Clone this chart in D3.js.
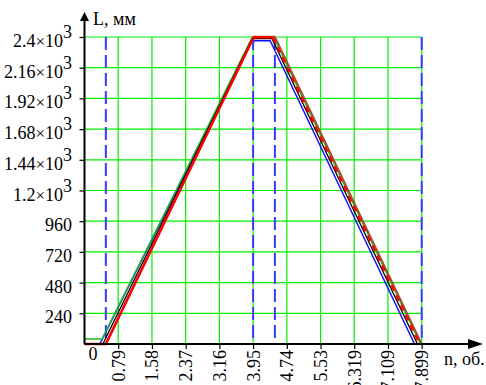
<!DOCTYPE html>
<html><head><meta charset="utf-8">
<script src="https://cdnjs.cloudflare.com/ajax/libs/d3/7.8.5/d3.min.js"></script>
<style>body{margin:0;background:#fff}svg{display:block}</style>
</head><body><svg id="c" width="486" height="385"></svg>
<script>
// ---- data ----
const xTicks = [0.79, 1.58, 2.37, 3.16, 3.95, 4.74, 5.53, 6.319, 7.109, 7.899];
const xTickLabels = ["0.79","1.58","2.37","3.16","3.95","4.74","5.53","6.319","7.109","7.899"];
const yTicks = [240, 480, 720, 960, 1200, 1440, 1680, 1920, 2160, 2400];
const yMantissa = ["240","480","720","960","1.2","1.44","1.68","1.92","2.16","2.4"];
const yExp = [null,null,null,null,"3","3","3","3","3","3"];
const dashedN = [0.50, 3.95, 4.46, 7.899];

const blueN = [0, 0.36, 3.91, 4.35, 7.73];
const blueL = [0, 0, 2371, 2371, 0];
const blackN = [0, 0.43, 3.93, 4.39, 7.80];
const blackL = [0, 0, 2388, 2388, 0];
const greenN = [0, 0.41, 3.93, 4.43, 7.87];
const greenL = [39, 39, 2400, 2400, 0];
const brownN = [0, 0.50, 3.97, 4.46, 7.899];
const brownL = [0, 0, 2402, 2402, 0];
const redN = [0, 0.50, 3.96, 4.41, 7.85];
const redL = [0, 0, 2398, 2398, 0];

// ---- chart ----
const svg = d3.select("#c");
const F = "Liberation Serif";
const x = d3.scaleLinear().domain([0, 7.899]).range([84.5, 421.7]);
const y = d3.scaleLinear().domain([0, 2400]).range([344, 37]);
const x0 = x(0), y0 = y(0);

// grid
const g = svg.append("g").attr("stroke", "#00ee00").attr("stroke-width", 1.2);
yTicks.forEach(v => g.append("line").attr("x1", x0).attr("x2", x(7.899)).attr("y1", y(v)).attr("y2", y(v)));
xTicks.forEach(v => g.append("line").attr("x1", x(v)).attr("x2", x(v)).attr("y1", y(0)).attr("y2", y(2400)));

// dashed verticals
dashedN.forEach(v => svg.append("line").attr("x1", x(v)).attr("x2", x(v)).attr("y1", y(2400)).attr("y2", y(0))
  .attr("stroke", "#3838ff").attr("stroke-width", 2).attr("stroke-dasharray", "13,5"));

// curves
const line = d3.line().x(d => x(d[0])).y(d => y(d[1]));
function pts(N, L) { return N.map((n, i) => [n, L[i]]); }
function draw(p, color, w, dash) {
  svg.append("path").attr("d", line(p)).attr("fill", "none").attr("stroke", color)
    .attr("stroke-width", w).attr("stroke-dasharray", dash || null).attr("stroke-linejoin", "round");
}
draw(pts(blueN, blueL), "#1010ff", 1.5);
draw(pts(greenN, greenL), "#22bb22", 1.5);
draw(pts(brownN, brownL), "#a0522d", 1.8);
draw(pts(blackN, blackL), "#000", 1.3);
const redP = pts(redN, redL);
draw(redP.slice(0, 4), "#ff0000", 2.6);
draw(redP.slice(3), "#ff0000", 2.4, "6,5");

// axes ticks
const xa = d3.axisBottom(x).tickValues(xTicks).tickSize(5).tickSizeOuter(0).tickFormat((d, i) => xTickLabels[i]);
const gx = svg.append("g").attr("transform", `translate(0,${y0})`).call(xa);
gx.attr("font-family", F);
gx.select(".domain").remove();
gx.selectAll(".tick line").attr("stroke", "#000").attr("stroke-width", 1.2);
gx.selectAll(".tick text").attr("font-family", F).attr("font-size", 18).attr("fill", "#000")
  .attr("text-anchor", "end").attr("transform", "translate(0,6) rotate(-90)").attr("x", 0).attr("y", 0).attr("dy", "0.33em");

const ya = d3.axisLeft(y).tickValues(yTicks).tickSize(5).tickSizeOuter(0).tickFormat("");
const gy = svg.append("g").attr("transform", `translate(${x0},0)`).call(ya);
gy.select(".domain").remove();
gy.selectAll(".tick line").attr("stroke", "#000").attr("stroke-width", 1.2);

yTicks.forEach((v, i) => {
  const t = svg.append("text").attr("x", 72).attr("y", y(v) + 10).attr("text-anchor", "end")
    .attr("font-family", F).attr("font-size", 18).attr("fill", "#000");
  t.append("tspan").text(yMantissa[i]);
  if (yExp[i]) {
    t.append("tspan").attr("font-size", 17).text("×");
    t.append("tspan").text("10");
    t.append("tspan").attr("font-size", 18).attr("dy", -9).text(yExp[i]);
  }
});

// axis lines with arrows
svg.append("line").attr("x1", x0).attr("x2", 470).attr("y1", y0).attr("y2", y0).attr("stroke", "#000").attr("stroke-width", 2);
svg.append("path").attr("d", `M468,${y0-5}L483,${y0}L468,${y0+5}Z`).attr("fill", "#000");
svg.append("line").attr("x1", x0).attr("x2", x0).attr("y1", y0).attr("y2", 20).attr("stroke", "#000").attr("stroke-width", 2);
svg.append("path").attr("d", `M${x0-4.5},21L${x0},12L${x0+4.5},21Z`).attr("fill", "#000");

// labels
svg.append("text").attr("x", 93).attr("y", 360).attr("text-anchor", "middle").attr("font-family", F).attr("font-size", 18).text("0");
svg.append("text").attr("x", 93).attr("y", 25).attr("font-family", F).attr("font-size", 18).text("L, мм");
svg.append("text").attr("x", 444).attr("y", 365).attr("font-family", F).attr("font-size", 18).text("n, об.");
</script></body></html>
